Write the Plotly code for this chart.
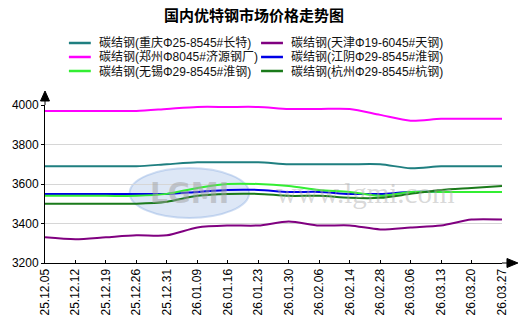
import plotly.graph_objects as go

dates = ["25.12.05", "25.12.12", "25.12.19", "25.12.26", "25.12.31", "26.01.09",
         "26.01.16", "26.01.23", "26.01.30", "26.02.06", "26.02.14", "26.02.28",
         "26.03.06", "26.03.13", "26.03.20", "26.03.27"]

chongqing = [3690, 3690, 3690, 3690, 3700, 3710, 3710, 3710, 3700, 3700, 3700, 3700, 3680, 3690, 3690, 3690]
tianjin = [3330, 3320, 3330, 3340, 3340, 3380, 3390, 3390, 3410, 3390, 3390, 3370, 3380, 3390, 3420, 3420]
zhengzhou = [3970, 3970, 3970, 3970, 3980, 3990, 3990, 3990, 3980, 3980, 3980, 3950, 3920, 3930, 3930, 3930]
jiangyin = [3550, 3550, 3550, 3550, 3550, 3560, 3570, 3570, 3560, 3560, 3550, 3550, 3560, 3560, 3560, 3560]
wuxi = [3540, 3540, 3540, 3540, 3550, 3580, 3600, 3600, 3590, 3570, 3560, 3540, 3560, 3560, 3560, 3560]
hangzhou = [3500, 3500, 3500, 3500, 3510, 3540, 3550, 3550, 3540, 3540, 3530, 3530, 3550, 3570, 3580, 3590]

names = ["碳结钢(重庆Φ25-8545#长特)", "碳结钢(天津Φ19-6045#天钢)",
         "碳结钢(郑州Φ8045#济源钢厂)", "碳结钢(江阴Φ29-8545#淮钢)",
         "碳结钢(无锡Φ29-8545#淮钢)", "碳结钢(杭州Φ29-8545#杭钢)"]
series = [chongqing, tianjin, zhengzhou, jiangyin, wuxi, hangzhou]
colors = ["#1f7f80", "#800080", "#ff00ff", "#0000e6", "#33ee33", "#1a7a1a"]

title = "国内优特钢市场价格走势图"
watermark = "www.lgmi.com"

W, H = 525, 333
ML, MR, MT, MB = 43, 23, 105, 70
PW, PH = W - ML - MR, H - MT - MB

def px(x):
    return (x - ML) / PW

def py(y):
    return (H - MB - y) / PH

FONT = "Liberation Sans, Arial, Noto Sans CJK SC"

fig = go.Figure()
xs = list(range(len(dates)))
for nm, ser, col in zip(names, series, colors):
    fig.add_trace(go.Scatter(x=xs, y=ser, name=nm, mode="lines",
                             line=dict(color=col, width=2, shape="spline", smoothing=0.8),
                             showlegend=False, hoverinfo="skip"))

shapes = []
annotations = []

# watermark logo (faint)
shapes.append(dict(type="circle", xref="paper", yref="paper", layer="below",
                   x0=px(128), x1=px(248), y0=py(218), y1=py(168),
                   fillcolor="rgba(120,160,220,0.25)", line=dict(color="rgba(120,160,220,0.35)", width=2)))
annotations.append(dict(text="<b>LGMI</b>", xref="paper", yref="paper", x=px(188), y=py(193),
                        xanchor="center", yanchor="middle", showarrow=False,
                        font=dict(family="DejaVu Sans", size=28, color="rgba(160,160,160,0.5)")))
annotations.append(dict(text=watermark, xref="paper", yref="paper", x=px(365), y=py(193),
                        xanchor="center", yanchor="middle", showarrow=False,
                        font=dict(family="Liberation Serif", size=29, color="rgba(170,170,170,0.45)")))

# axis arrows
shapes.append(dict(type="line", xref="paper", yref="paper", x0=0, x1=0, y0=1, y1=py(100),
                   line=dict(color="black", width=1)))
shapes.append(dict(type="path", xref="paper", yref="paper",
                   path=f"M {px(38.5)} {py(101)} L {px(47.5)} {py(101)} L {px(43)} {py(91)} Z",
                   fillcolor="black", line=dict(color="black", width=1)))
shapes.append(dict(type="line", xref="paper", yref="paper", x0=1, x1=px(508), y0=0, y1=0,
                   line=dict(color="black", width=1)))
shapes.append(dict(type="path", xref="paper", yref="paper",
                   path=f"M {px(507)} {py(258.5)} L {px(507)} {py(267.5)} L {px(518)} {py(263)} Z",
                   fillcolor="black", line=dict(color="black", width=1)))

# title
annotations.append(dict(text=f"<b>{title}</b>", xref="paper", yref="paper", x=px(253), y=py(15),
                        showarrow=False, xanchor="center", yanchor="middle",
                        font=dict(family=FONT, size=15, color="black")))

# manual legend (2 columns x 3 rows, row-major order)
col_x = [(67, 95), (260, 288)]
row_y = [43, 57, 71]
for i, (nm, col) in enumerate(zip(names, colors)):
    r, c = divmod(i, 2)
    lx0, tx = col_x[c]
    yy = row_y[r]
    shapes.append(dict(type="line", xref="paper", yref="paper",
                       x0=px(lx0), x1=px(lx0 + 22), y0=py(yy), y1=py(yy),
                       line=dict(color=col, width=2.5)))
    annotations.append(dict(text=nm, xref="paper", yref="paper", x=px(tx), y=py(yy),
                            showarrow=False, xanchor="left", yanchor="middle",
                            font=dict(family=FONT, size=12, color="#111")))

fig.update_layout(
    width=W, height=H,
    margin=dict(l=ML, r=MR, t=MT, b=MB),
    paper_bgcolor="white", plot_bgcolor="white",
    showlegend=False,
    font=dict(family=FONT, size=12, color="black"),
    shapes=shapes, annotations=annotations,
    xaxis=dict(range=[0, len(dates) - 1], tickmode="array", tickvals=xs, ticktext=dates,
               tickangle=-90, showgrid=False, zeroline=False, showline=True,
               linecolor="black", linewidth=1, ticks="inside", ticklen=3, tickcolor="black",
               tickfont=dict(family=FONT, size=12, color="black"), fixedrange=True),
    yaxis=dict(range=[3200, 4000], dtick=200, tick0=3200, showgrid=True, gridcolor="#d6d6d6",
               gridwidth=1, zeroline=False, showline=True, linecolor="black", linewidth=1,
               ticks="outside", ticklen=3, tickcolor="black",
               tickfont=dict(family=FONT, size=12, color="black"), fixedrange=True),
)

fig.write_html("out.html")
